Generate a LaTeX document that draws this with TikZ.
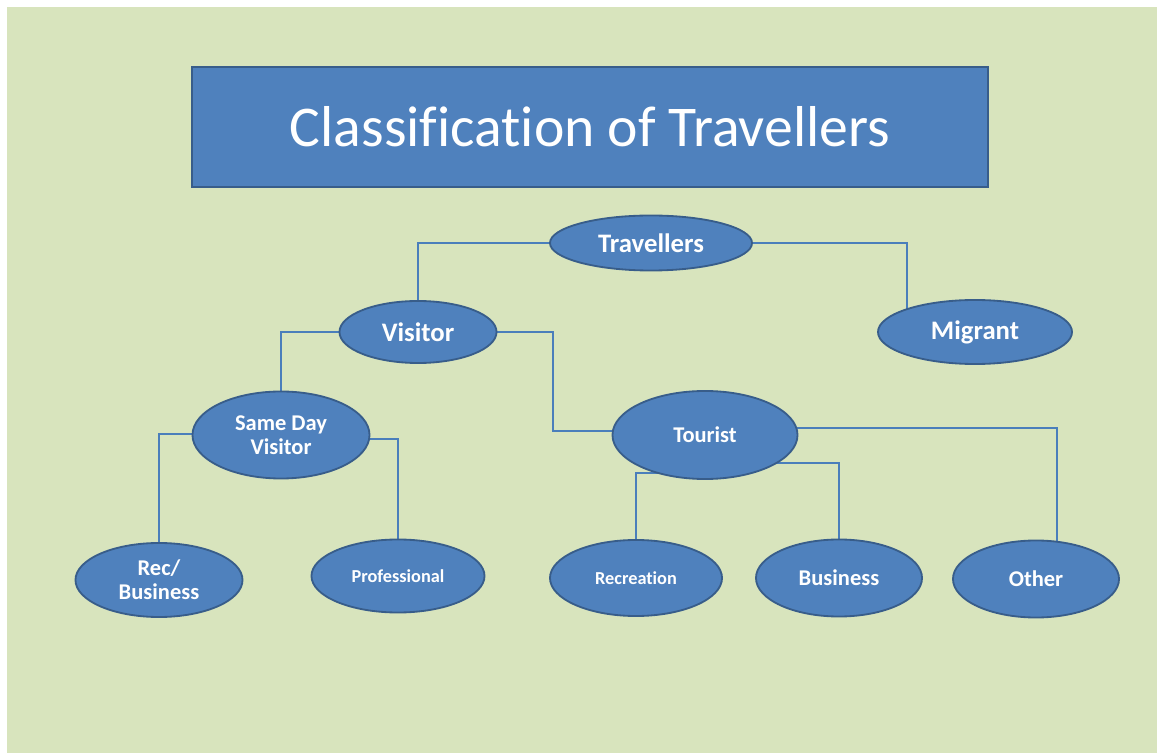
\documentclass[tikz,border=0pt]{standalone}
\usepackage{fontspec}
\setmainfont{Carlito}[Ligatures=NoCommon]
\usetikzlibrary{shapes.geometric,calc}
\pgfdeclarelayer{bg}
\pgfdeclarelayer{edges}
\pgfsetlayers{bg,edges,main}
\definecolor{bggreen}{HTML}{D8E4BD}
\definecolor{nodeblue}{HTML}{4F81BD}
\definecolor{nodeedge}{HTML}{385D8A}
\definecolor{linkblue}{HTML}{4A7EBB}
\begin{document}
\begin{tikzpicture}[x=0.025cm,y=-0.025cm,
  oval/.style={ellipse,fill=nodeblue,draw=nodeedge,line width=1.3pt,inner sep=0pt,outer sep=0pt,text=white,font=\bfseries,align=center},
  bigtxt/.style={font=\bfseries\fontsize{19}{21}\selectfont},
  midtxt/.style={font=\bfseries\fontsize{16}{17}\selectfont},
  smalltxt/.style={font=\bfseries\fontsize{13}{15}\selectfont},
  titlebox/.style={rectangle,fill=nodeblue,draw=nodeedge,line width=1.3pt,text=white,font=\fontsize{41}{44}\selectfont,inner sep=0pt},
  link/.style={draw=linkblue,line width=0.8pt}]
\useasboundingbox (0,0) rectangle (1157,753);
\begin{pgfonlayer}{bg}
\fill[white] (0,0) rectangle (1157,753);
\fill[bggreen] (7,7) rectangle (1157,753);
\end{pgfonlayer}

\node[titlebox,minimum width=19.9cm,minimum height=3cm] (title) at (590,127) {Classification of Travellers};

\node[oval,bigtxt,minimum width=5.05cm,minimum height=1.375cm] (trav) at (651,243) {Travellers};
\node[oval,bigtxt,minimum width=3.925cm,minimum height=1.55cm] (vis) at (418,332) {Visitor};
\node[oval,bigtxt,minimum width=4.85cm,minimum height=1.6cm] (mig) at (975,332) {Migrant};
\node[oval,midtxt,minimum width=4.425cm,minimum height=2.175cm] (sdv) at (281,435) {Same Day\\Visitor};
\node[oval,midtxt,minimum width=4.625cm,minimum height=2.2cm] (tour) at (705,435) {Tourist};
\node[oval,midtxt,minimum width=4.175cm,minimum height=1.85cm] (rb) at (159,580) {Rec/\\Business};
\node[oval,smalltxt,minimum width=4.325cm,minimum height=1.825cm] (prof) at (398,576) {Professional};
\node[oval,smalltxt,minimum width=4.3cm,minimum height=1.9cm] (rec) at (636,578) {Recreation};
\node[oval,midtxt,minimum width=4.15cm,minimum height=1.925cm] (bus) at (839,578) {Business};
\node[oval,midtxt,minimum width=4.15cm,minimum height=1.925cm] (oth) at (1036,579) {Other};

\begin{pgfonlayer}{edges}
\draw[link] (trav.center) -| (vis.north);
\draw[link] (trav.center) -| ($(mig.center)+(-68,0)$);
\draw[link] (vis.center) -| (sdv.north);
\draw[link] (vis.center) -- ($(vis.center)+(135,0)$) |- ($(tour.center)+(0,-4)$);
\draw[link] ($(sdv.center)+(0,-1)$) -| (rb.north);
\draw[link] ($(sdv.center)+(0,4)$) -| (prof.north);
\draw[link] ($(tour.center)+(0,38)$) -| (rec.north);
\draw[link] ($(tour.center)+(0,28)$) -| (bus.north);
\draw[link] ($(tour.center)+(0,-7)$) -| ($(oth.center)+(21,0)$);
\end{pgfonlayer}
\end{tikzpicture}
\end{document}
